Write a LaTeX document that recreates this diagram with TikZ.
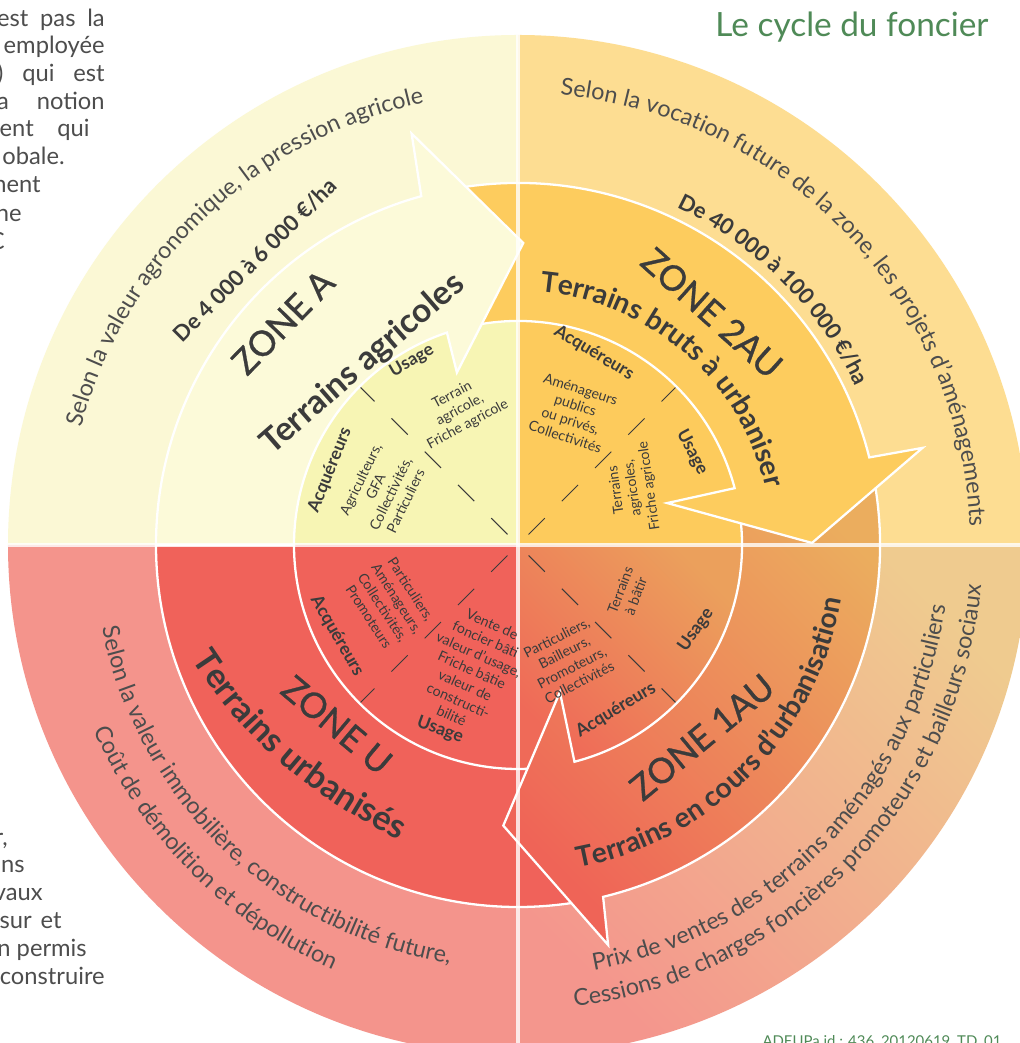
\documentclass[tikz,border=0pt]{standalone}
\usepackage{fontspec}
\setmainfont{Lato}
\newfontfamily\zonefont[FakeBold=0.8]{Lato}
\usetikzlibrary{decorations.text}

\definecolor{txtdark}{HTML}{3B3B3B}
\definecolor{txtgray}{HTML}{4D4D4D}
\definecolor{titlegreen}{HTML}{4F8A57}
\definecolor{aouter}{HTML}{FBF8D5}
\definecolor{aband}{HTML}{FCFAD9}
\definecolor{ainner}{HTML}{F7F5B4}
\definecolor{bouter}{HTML}{FDDD92}
\definecolor{bband}{HTML}{FDCC5E}
\definecolor{binner}{HTML}{FDCB5C}
\definecolor{couterhi}{HTML}{EFCB8F}
\definecolor{coutermid}{HTML}{F4A591}
\definecolor{couterlo}{HTML}{F4968D}
\definecolor{cbandhi}{HTML}{EBAD5E}
\definecolor{cbandlo}{HTML}{EF6457}
\definecolor{cinnerhi}{HTML}{EBA05C}
\definecolor{cinnerlo}{HTML}{EF6A58}
\definecolor{douter}{HTML}{F4948C}
\definecolor{dband}{HTML}{F0625A}
\definecolor{dinner}{HTML}{F0625A}

\newcommand{\outerfont}{\fontsize{13.3}{16}\selectfont\color{txtgray}}
\newcommand{\pricefont}{\fontsize{12.5}{15}\selectfont\bfseries\color{txtdark}}
\newcommand{\bandfont}{\fontsize{16}{19}\selectfont\bfseries\color{txtdark}}
\newcommand{\bigbandfont}{\fontsize{19.5}{23}\selectfont\bfseries\color{txtdark}}

\begin{document}
\begin{tikzpicture}[x=0.02cm, y=0.02cm,
  bandline/.style={draw=white, line width=1.3pt},
  sepline/.style={white, line width=2.2pt, opacity=0.8},
  dashline/.style={draw=txtdark, line width=0.6pt, dash pattern=on 0.46cm off 0.48cm},
  lblhead/.style={text=txtdark, font=\fontsize{10}{12}\selectfont\bfseries, inner sep=0pt},
  lblbody/.style={text=txtdark, font=\fontsize{8}{9.5}\selectfont, align=center, inner sep=0pt},
  zonelbl/.style={text=txtdark, font=\zonefont\fontsize{20}{24}\selectfont, inner sep=0pt},
  terrlbl/.style={text=txtdark, font=\fontsize{19}{23}\selectfont\bfseries, inner sep=0pt},
  pricelbl/.style={text=txtdark, font=\fontsize{12.5}{15}\selectfont\bfseries, inner sep=0pt},
  sidetxt/.style={text=txtgray, font=\fontsize{13.5}{16}\selectfont, inner sep=0pt, anchor=base east},
  greentxt/.style={text=titlegreen, inner sep=0pt, anchor=base},
]
\fill[white] (-518,-498) rectangle (501,545);
\useasboundingbox (-518,-498) rectangle (501,545);

% outer quadrants
\fill[aouter] (0,0) -- (180:510) arc[start angle=180, end angle=90, radius=510] -- cycle;
\fill[bouter] (0,0) -- (90:510) arc[start angle=90, end angle=0, radius=510] -- cycle;
\shade[top color=couterhi, middle color=coutermid, bottom color=couterlo, shading angle=-45] (0,0) -- (0:510) arc[start angle=0, end angle=-90, radius=510] -- cycle;
\fill[douter] (0,0) -- (-90:510) arc[start angle=-90, end angle=-180, radius=510] -- cycle;

% inner quarter discs
\fill[ainner] (0,0) -- (180:224) arc[start angle=180, end angle=90, radius=224] -- cycle;
\fill[binner] (0,0) -- (90:224) arc[start angle=90, end angle=0, radius=224] -- cycle;
\shade[top color=cinnerhi, bottom color=cinnerlo, shading angle=-45] (0,0) -- (0:224) arc[start angle=0, end angle=-90, radius=224] -- cycle;
\fill[dinner] (0,0) -- (-90:224) arc[start angle=-90, end angle=-180, radius=224] -- cycle;

\draw[dashline] (135:15) -- (135:224);
\draw[dashline] (45:15) -- (45:224);
\draw[dashline] (-45:15) -- (-45:224);
\draw[dashline] (-135:15) -- (-135:224);

% bands, each one runs under the head of the one before
\draw[bandline, fill=dband] (-78:362) arc[start angle=-78, end angle=-180, radius=362] -- (-180:224) arc[start angle=-180, end angle=-78, radius=224] -- cycle;
\shadedraw[bandline, top color=cbandhi, bottom color=cbandlo, shading angle=-45] (12:362) arc[start angle=12, end angle=-76.4, radius=362] -- (-77.3:410) -- (-93:281) -- (-74.1:153) -- (-75.4:224) arc[start angle=-75.4, end angle=12, radius=224] -- cycle;
\draw[bandline, fill=bband] (102:362) arc[start angle=102, end angle=14, radius=362] -- (13.5:416) -- (0.4:294) -- (15.7:155) -- (14.7:224) arc[start angle=14.7, end angle=102, radius=224] -- cycle;
\draw[bandline, fill=aband] (180:362) arc[start angle=180, end angle=105.5, radius=362] -- (104.5:425) -- (89:302) -- (109.5:183) -- (108.5:224) arc[start angle=108.5, end angle=180, radius=224] -- cycle;

\draw[sepline] (-520,0) -- (520,0);
\draw[sepline] (0,-520) -- (0,520);

% outer texts
\path[decorate, decoration={text along path, text align=center, text={|\outerfont|Selon la valeur agronomique, la pression agricole}}] (176:452) arc[start angle=176, end angle=91, radius=452];
\path[decorate, decoration={text along path, text align=center, text={|\outerfont|Selon la vocation future de la zone, les projets d’aménagements}}] (89:452) arc[start angle=89, end angle=-2, radius=452];
\path[decorate, decoration={text along path, text align=center, text={|\outerfont|Prix de ventes des terrains aménagés aux particuliers}}] (270:432) arc[start angle=270, end angle=362, radius=432];
\path[decorate, decoration={text along path, text align=center, text={|\outerfont|Cessions de charges foncières promoteurs et bailleurs sociaux}}] (270:465) arc[start angle=270, end angle=362, radius=465];
\path[decorate, decoration={text along path, text align=center, text={|\outerfont|Selon la valeur immobilière, constructibilité future,}}] (180:424) arc[start angle=180, end angle=272, radius=424];
\path[decorate, decoration={text along path, text align=center, text={|\outerfont|Coût de démolition et dépollution}}] (180:463) arc[start angle=180, end angle=270, radius=463];

% prices
\node[pricelbl, rotate=45] (prixA) at (-263,285) {De 4 000 à 6 000 €/ha};
\path[decorate, decoration={text along path, text align=center, text={|\pricefont|De 40 000 à 100 000 €/ha}}] (80:373) arc[start angle=80, end angle=10, radius=373];

% zones
\node[zonelbl, rotate=45.7] (zoneA) at (-235,223) {ZONE A};
\node[terrlbl, rotate=41] (terrA) at (-155,181) {Terrains agricoles};
\node[zonelbl, rotate=-41.8] (zoneB) at (194,232) {ZONE 2AU};
\path[decorate, decoration={text along path, text align=center, text={|\bandfont|Terrains bruts à urbaniser}}] (90:254) arc[start angle=90, end angle=8, radius=254];
\node[zonelbl, rotate=39.6] (zoneC) at (184,-192) {ZONE 1AU};
\path[decorate, decoration={text along path, text align=center, text={|\bandfont|Terrains en cours d’urbanisation}}] (275:328) arc[start angle=275, end angle=356, radius=328];
\node[zonelbl, rotate=-40] (zoneD) at (-181,-180) {ZONE U};
\path[decorate, decoration={text along path, text align=center, text={|\bigbandfont|Terrains urbanisés}}] (-335,-100) .. controls (-277,-196) and (-204,-255) .. (-104,-302);

% inner labels
\node[lblhead, rotate=30] (usageA) at (-106,184) {Usage};
\node[lblbody, rotate=28] (usageAtxt) at (-58,135) {Terrain\\agricole,\\Friche agricole};
\node[lblhead, rotate=68] (acqA) at (-188,75) {Acquéreurs};
\node[lblbody, rotate=64] (acqAtxt) at (-135,55) {Agriculteurs,\\GFA\\Collectivités,\\Particuliers};

\node[lblhead, rotate=-31] (acqB) at (76,192) {Acquéreurs};
\node[lblbody, rotate=-18] (acqBtxt) at (55,132) {Aménageurs\\publics\\ou privés,\\Collectivités};
\node[lblhead, rotate=-62] (usageB) at (174,93) {Usage};
\node[lblbody, rotate=98] (usageBtxt) at (115,57) {Terrains\\agricoles,\\Friche agricole};

\node[lblbody, rotate=69] (usageCtxt) at (110,-48) {Terrains\\à bâtir};
\node[lblhead, rotate=55] (usageC) at (178,-85) {Usage};
\node[lblbody, rotate=27] (acqCtxt) at (50,-115) {Particuliers,\\Bailleurs,\\Promoteurs,\\Collectivités};
\node[lblhead, rotate=31] (acqC) at (98,-165) {Acquéreurs};

\node[lblbody, rotate=-57] (acqDtxt) at (-128,-58) {Particuliers,\\Aménageurs,\\Collectivités,\\Promoteurs};
\node[lblhead, rotate=-60] (acqD) at (-181,-91) {Acquéreurs};
\node[lblbody, rotate=-24] (usageDtxt) at (-46,-125) {Vente de\\foncier bâti\\valeur d’usage,\\Friche bâtie\\valeur de\\constructi-\\bilité};
\node[lblhead, rotate=-20] (usageD) at (-78,-185) {Usage};

% title and id
\node[greentxt, font=\fontsize{19}{22}\selectfont] (title) at (334,508) {Le cycle du foncier};
\node[greentxt, font=\fontsize{8.5}{10}\selectfont] (docid) at (364,-501) {ADEUPa id : 436\_20120619\_TD\_01};

% page text cut by the frame
\node[sidetxt] (side1) at (-413,518) {\makebox[2.15cm][s]{est pas la}};
\node[sidetxt] (side2) at (-413,491) {employée};
\node[sidetxt] (side3) at (-413,463) {\makebox[2.15cm][s]{) qui est}};
\node[sidetxt] (side4) at (-413,435) {\makebox[2.15cm][s]{a notion}};
\node[sidetxt] (side5) at (-428,408) {\makebox[1.8cm][s]{ent qui}};
\node[sidetxt] (side6) at (-453,380) {obale.};
\node[sidetxt] (side7) at (-477,352) {nent};
\node[sidetxt] (side8) at (-496,323) {ne};
\node[sidetxt] (side9) at (-513,295) {C};
\node[sidetxt] (side10) at (-510,-300) {r,};
\node[sidetxt] (side11) at (-493,-327) {ons};
\node[sidetxt] (side12) at (-475,-355) {vaux};
\node[sidetxt] (side13) at (-456,-383) {\makebox[1.24cm][s]{sur et}};
\node[sidetxt] (side14) at (-431,-411) {n permis};
\node[sidetxt] (side15) at (-413,-439) {construire};
\end{tikzpicture}
\end{document}
